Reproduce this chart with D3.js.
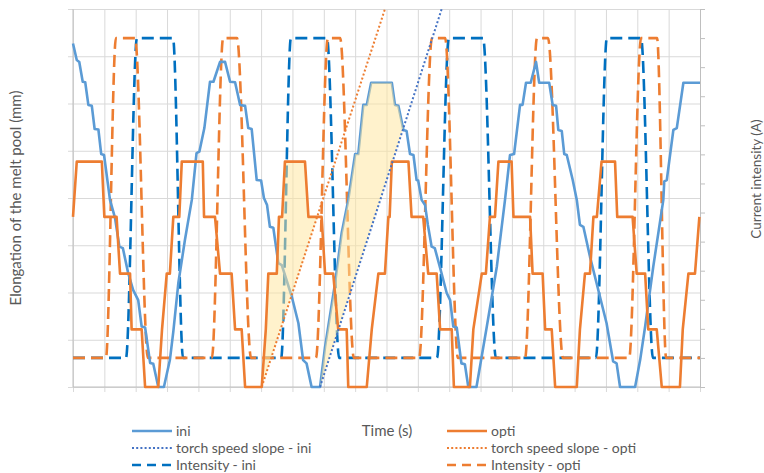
<!DOCTYPE html>
<html>
<head>
<meta charset="utf-8">
<script src="https://cdn.jsdelivr.net/npm/d3@7/dist/d3.min.js"></script>
<style>
  body { margin: 0; background: #fff; }
  text { font-family: Lato, "Open Sans", sans-serif; fill: #595959; }
</style>
</head>
<body>
<script>
// ---- data (time in grid units, elongation on left axis, intensity on right axis) ----
const timeTicks = [0, 1, 2, 3, 4, 5, 6, 7, 8, 9, 10, 11, 12, 13, 14, 15, 16, 17, 18, 19, 20];
const elongTicks = [0, 1, 2, 3, 4, 5, 6, 7, 8];
const intensTicks = [0, 1, 2, 3, 4, 5, 6, 7, 8, 9, 10, 11, 12, 13];

const ini = [[0,7.27],[0.12,6.92],[0.20,6.88],[0.31,6.46],[0.39,6.45],[0.49,5.97],[0.60,5.95],[0.69,5.46],[0.81,5.45],
  [0.90,4.93],[0.99,4.91],[1.18,3.96],[1.34,3.58],[1.48,2.97],[1.59,2.94],[1.76,2.41],[1.92,2.05],[2.08,1.84],[2.19,1.28],
  [2.30,1.26],[2.46,0.51],[2.56,0.49],[2.72,0],[2.90,0],[3.09,0.57],[3.20,1.17],[3.36,2.20],[3.57,3.11],[3.79,3.96],
  [3.94,4.95],[4.03,4.98],[4.19,5.48],[4.37,6.46],[4.48,6.46],[4.69,6.88],[4.85,6.88],[5.01,6.46],[5.17,6.45],[5.33,5.97],
  [5.49,5.95],[5.59,5.48],[5.70,5.46],[5.86,4.38],[6.00,4.37],[6.09,4.0],[6.19,3.85],[6.28,3.39],[6.39,3.37],[6.55,2.62],
  [6.66,2.58],[6.98,1.91],[7.19,1.35],[7.34,0.57],[7.45,0.50],[7.61,0],[7.88,0],[8.04,0.85],[8.36,2.20],[8.57,3.26],
  [8.78,3.96],[9.00,4.93],[9.10,4.93],[9.26,5.97],[9.37,5.97],[9.51,6.44],[10.17,6.44],[10.27,5.97],[10.38,5.95],
  [10.54,5.44],[10.64,5.42],[10.75,4.93],[10.86,4.91],[10.96,4.38],[11.01,4.37],[11.12,3.96],[11.23,3.85],[11.32,3.43],
  [11.44,2.97],[11.54,2.94],[11.71,2.52],[11.92,1.99],[12.03,1.84],[12.13,1.28],[12.24,1.26],[12.39,0.50],[12.50,0.48],
  [12.61,0],[12.87,0],[13.20,1.28],[13.52,2.55],[13.78,3.96],[13.94,4.91],[14.07,4.93],[14.26,5.97],[14.34,5.97],
  [14.45,6.44],[14.60,6.44],[14.77,6.88],[14.87,6.44],[15.19,6.44],[15.30,5.97],[15.41,5.95],[15.48,5.44],[15.59,5.42],
  [15.67,4.93],[15.75,4.91],[15.94,4.38],[16.07,3.96],[16.17,3.43],[16.28,3.39],[16.49,2.76],[16.70,2.20],[17.02,1.35],
  [17.23,0.54],[17.34,0.50],[17.45,0],[17.93,0],[18.09,0.57],[18.25,1.28],[18.51,2.55],[18.83,3.96],[18.86,4.35],
  [18.94,4.38],[19.15,5.44],[19.26,5.48],[19.47,6.44],[20,6.44]];

const opti = [[0,3.6],[0.12,4.77],[0.92,4.77],[1.00,3.6],[1.39,3.6],[1.50,2.4],[1.82,2.4],[1.87,1.22],[2.19,1.22],
  [2.30,0],[2.72,0],[2.84,1.22],[2.99,2.4],[3.09,2.4],[3.20,3.6],[3.39,3.6],[3.47,4.77],[4.14,4.77],[4.18,3.6],[4.53,3.6],
  [4.69,2.4],[5.06,2.4],[5.17,1.22],[5.38,1.22],[5.49,0],[6.02,0],[6.15,1.22],[6.23,2.4],[6.50,2.4],[6.57,3.6],[6.67,3.6],
  [6.76,4.77],[7.40,4.77],[7.51,3.6],[7.93,3.6],[8.04,2.4],[8.30,2.4],[8.46,1.22],[8.73,1.22],[8.78,0],[9.37,0],
  [9.53,1.22],[9.74,2.4],[9.95,2.4],[10.06,3.6],[10.10,3.6],[10.17,4.77],[10.70,4.77],[10.80,3.6],[11.17,3.6],[11.33,2.4],
  [11.60,2.4],[11.71,1.22],[12.08,1.22],[12.15,0],[12.66,0],[12.77,1.22],[13.04,2.4],[13.17,2.4],[13.30,3.6],[13.46,3.6],
  [13.57,4.77],[13.99,4.77],[14.05,3.6],[14.58,3.6],[14.66,2.4],[14.98,2.4],[15.06,1.22],[15.27,1.22],[15.38,0],
  [16.07,0],[16.17,1.22],[16.33,2.4],[16.49,2.4],[16.60,3.6],[16.71,3.6],[16.86,4.77],[17.29,4.77],[17.36,3.6],
  [17.85,3.6],[17.98,2.4],[18.25,2.4],[18.35,1.22],[18.62,1.22],[18.78,0],[19.36,0],[19.45,1.22],[19.63,2.4],
  [19.84,2.4],[19.98,3.6]];

// torch speed slopes: start and end of each straight line
const torchIni = [[7.88, 0], [11.76, 8]];
const torchOpti = [[6.02, 0], [9.95, 8]];

// current intensity (right axis), low = 1, high = 12
const intensityIni = [[0,1],[1.69,1],[2.04,12],[3.19,12],[3.51,1],[6.64,1],[6.95,12],[8.10,12],[8.49,1],[11.61,1],
  [11.99,12],[13.08,12],[13.49,1],[16.68,1],[17.03,12],[18.12,12],[18.50,1],[20,1]];
const intensityOpti = [[0,1],[1.05,1],[1.37,12],[1.98,12],[2.39,1],[4.43,1],[4.79,12],[5.23,12],[5.68,1],[7.75,1],
  [8.13,12],[8.52,12],[8.96,1],[11.04,1],[11.45,12],[11.87,12],[12.28,1],[14.42,1],[14.80,12],[15.15,12],[15.63,1],
  [17.74,1],[18.12,12],[18.63,12],[18.92,1],[20,1]];

// ---- layout ----
const W = 764, H = 473;
const x = d3.scaleLinear([0, 20], [73, 700]);
const y = d3.scaleLinear([0, 8], [387, 9]);
const y2 = d3.scaleLinear([0, 13], [387, 9]);

const svg = d3.create("svg").attr("width", W).attr("height", H);

// vertical grid + bottom ticks
const gxg = svg.append("g")
  .attr("transform", `translate(0,${y(0)})`)
  .call(d3.axisBottom(x).tickValues(timeTicks).tickSize(-(y(0) - y(8))).tickFormat(""));
gxg.select(".domain").remove();
gxg.selectAll(".tick line").attr("stroke", "#d9d9d9").attr("y1", 5);

// horizontal grid + left ticks
const gyg = svg.append("g")
  .attr("transform", `translate(${x(0)},0)`)
  .call(d3.axisLeft(y).tickValues(elongTicks).tickSize(-(x(20) - x(0))).tickFormat(""));
gyg.select(".domain").remove();
gyg.selectAll(".tick line").attr("stroke", "#d9d9d9").attr("x1", -5);

// axis lines
svg.append("line").attr("x1", x(0)).attr("x2", x(0)).attr("y1", y(8)).attr("y2", y(0)).attr("stroke", "#bfbfbf");
svg.append("line").attr("x1", x(0)).attr("x2", x(20)).attr("y1", y(0)).attr("y2", y(0)).attr("stroke", "#bfbfbf");

// right axis (intensity), no labels
const gr = svg.append("g")
  .attr("transform", `translate(${x(20)},0)`)
  .call(d3.axisRight(y2).tickValues(intensTicks).tickSize(5).tickSizeOuter(0).tickFormat(""));
gr.select(".domain").attr("stroke", "#bfbfbf");
gr.selectAll(".tick line").attr("stroke", "#bfbfbf");

// ---- series ----
const lineL = d3.line().x(d => x(d[0])).y(d => y(d[1]));
const lineR = d3.line().x(d => x(d[0])).y(d => y2(d[1])).curve(d3.curveMonotoneX);

const styles = {
  ini:   { stroke: "#5B9BD5", width: 2.6, dash: null, legDash: null },
  opti:  { stroke: "#ED7D31", width: 2.6, dash: null, legDash: null },
  tIni:  { stroke: "#4472C4", width: 2, dash: "2,2.2", legDash: "2,2.2" },
  tOpti: { stroke: "#ED7D31", width: 2, dash: "2,2.2", legDash: "2,2.2" },
  iIni:  { stroke: "#0070C0", width: 2.6, dash: "12,6", legDash: "9,6" },
  iOpti: { stroke: "#ED7D31", width: 2.6, dash: "12,6", legDash: "9,6" }
};

function draw(data, gen, st) {
  svg.append("path")
    .datum(data)
    .attr("d", gen)
    .attr("fill", "none")
    .attr("stroke", st.stroke)
    .attr("stroke-width", st.width)
    .attr("stroke-dasharray", st.dash)
    .attr("stroke-linejoin", "round");
}

// area between a series and a slope line, from the start of the slope until the series drops under it
function wedge(series, slope) {
  const [p0, p1] = slope;
  const f = t => p0[1] + (t - p0[0]) * (p1[1] - p0[1]) / (p1[0] - p0[0]);
  const pts = [];
  for (let i = 0; i < series.length; i++) {
    const d = series[i];
    if (d[0] < p0[0] - 1e-6) continue;
    if (d[1] >= f(d[0]) - 1e-6) { pts.push(d); continue; }
    const a = series[i - 1];
    const da = a[1] - f(a[0]), db = d[1] - f(d[0]);
    const s = da / (da - db);
    pts.push([a[0] + s * (d[0] - a[0]), a[1] + s * (d[1] - a[1])]);
    break;
  }
  const area = d3.area()
    .x(d => x(d[0]))
    .y0(d => y(Math.max(0, f(d[0]))))
    .y1(d => y(d[1]));
  svg.append("path")
    .datum(pts)
    .attr("d", area)
    .attr("fill", "#FFE699")
    .attr("fill-opacity", 0.5);
}

draw(intensityIni, lineR, styles.iIni);
draw(intensityOpti, lineR, styles.iOpti);
draw(ini, lineL, styles.ini);
wedge(opti, torchOpti);
wedge(ini, torchIni);
draw(opti, lineL, styles.opti);
draw(torchIni, lineL, styles.tIni);
draw(torchOpti, lineL, styles.tOpti);

// ---- axis titles ----
svg.append("text")
  .attr("transform", `translate(21,198) rotate(-90)`)
  .attr("text-anchor", "middle")
  .attr("font-size", 15)
  .text("Elongation of the melt pool (mm)");

svg.append("text")
  .attr("transform", `translate(761,179) rotate(-90)`)
  .attr("text-anchor", "middle")
  .attr("font-size", 13.5)
  .text("Current intensity (A)");

svg.append("text")
  .attr("x", 387).attr("y", 436)
  .attr("text-anchor", "middle")
  .attr("font-size", 15)
  .text("Time (s)");

// ---- legend ----
const legendItems = [
  { label: "ini", st: styles.ini, col: 0, row: 0 },
  { label: "torch speed slope - ini", st: styles.tIni, col: 0, row: 1 },
  { label: "Intensity - ini", st: styles.iIni, col: 0, row: 2 },
  { label: "opti", st: styles.opti, col: 1, row: 0 },
  { label: "torch speed slope - opti", st: styles.tOpti, col: 1, row: 1 },
  { label: "Intensity - opti", st: styles.iOpti, col: 1, row: 2 }
];
const colX = [132, 447];
const rowY = [431, 448, 465];

const leg = svg.append("g").selectAll("g")
  .data(legendItems)
  .join("g")
  .attr("transform", d => `translate(${colX[d.col]},${rowY[d.row]})`);

leg.append("line")
  .attr("x1", 0).attr("x2", 40)
  .attr("stroke", d => d.st.stroke)
  .attr("stroke-width", d => d.st.width)
  .attr("stroke-dasharray", d => d.st.legDash);

leg.append("text")
  .attr("x", 44)
  .attr("dy", "0.33em")
  .attr("font-size", 14)
  .text(d => d.label);

d3.select("body").append(() => svg.node());
</script>
</body>
</html>
